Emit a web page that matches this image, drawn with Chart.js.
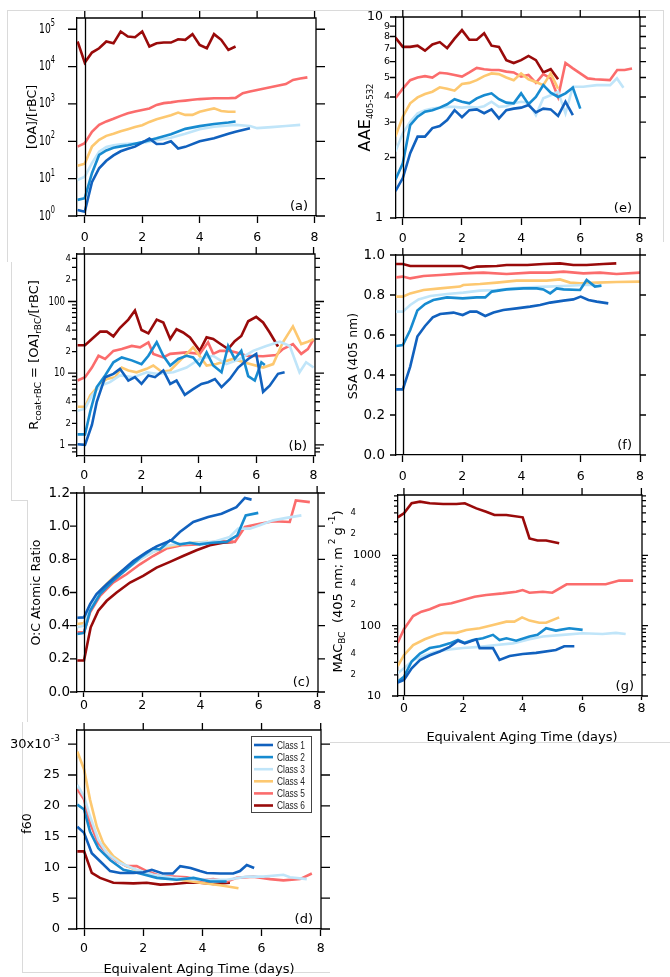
<!DOCTYPE html>
<html>
<head>
<meta charset="utf-8">
<script src="https://cdn.jsdelivr.net/npm/chart.js@4.4.1/dist/chart.umd.min.js"></script>
<style>
  body { margin: 0; background: #fff; width: 670px; height: 977px; position: relative; overflow: hidden; }
  canvas { position: absolute; }
  .edge { position: absolute; background: #dadada; }
</style>
</head>
<body>
<script>
// ---- data ----
const classNames = ["Class 1", "Class 2", "Class 3", "Class 4", "Class 5", "Class 6"];
const classColors = ["#1161be", "#178bd0", "#c0e5f9", "#fdc870", "#fb6c6c", "#990a0a"];
const xTickValues = [0, 2, 4, 6, 8];

// (a) [OA]/[rBC]
const oaRbc1 = [[-0.25,1.45],[0,1.3],[0.25,8],[0.5,19],[0.75,30],[1,42],[1.25,54],[1.5,63],[1.75,72],[2,92],[2.25,118],[2.5,85],[2.75,86],[3,100],[3.25,64],[3.5,71],[4,100],[4.5,120],[5,160],[5.25,180],[5.75,223]];
const oaRbc2 = [[-0.25,2.7],[0,3],[0.25,14],[0.5,43],[0.75,57],[1,67],[1.25,73],[1.5,78],[1.75,86],[2,95],[2.5,120],[3,155],[3.5,215],[4,255],[4.5,290],[5,320],[5.25,340]];
const oaRbc3 = [[-0.25,9.2],[0,11.3],[0.25,26],[0.5,53],[0.75,70],[1,78],[1.25,83],[1.5,86],[1.75,88],[2,90],[2.75,115],[3,125],[3.5,160],[4,210],[4.5,245],[5,265],[5.25,275],[5.75,257],[6,225],[6.5,240],[7,258],[7.5,275]];
const oaRbc4 = [[-0.25,22],[0,25],[0.25,72],[0.5,110],[0.75,140],[1,160],[1.25,185],[1.5,210],[1.75,240],[2,270],[2.25,330],[2.5,390],[2.75,440],[3,500],[3.25,590],[3.5,510],[3.75,510],[4,620],[4.25,690],[4.5,760],[4.75,650],[5,620],[5.25,620]];
const oaRbc5 = [[-0.25,72],[0,89],[0.25,180],[0.5,275],[0.75,340],[1,400],[1.25,480],[1.5,560],[1.75,630],[2,690],[2.25,760],[2.5,940],[2.75,1050],[3,1100],[3.25,1180],[3.5,1230],[3.75,1290],[4,1350],[4.5,1420],[5,1420],[5.25,1450],[5.5,1950],[5.75,2150],[6,2370],[6.25,2600],[6.5,2850],[6.75,3100],[7,3400],[7.25,4400],[7.5,4800],[7.75,5150]];
const oaRbc6 = [[-0.25,47000],[0,12800],[0.25,23700],[0.5,31000],[0.75,47000],[1,42000],[1.25,87000],[1.5,64000],[1.75,61000],[2,87000],[2.25,34600],[2.5,42000],[2.75,44000],[3,44000],[3.25,54000],[3.5,52000],[3.75,74000],[4,38000],[4.25,31000],[4.5,74000],[4.75,52000],[5,28000],[5.25,34600]];
const oaRbcTicks = [1, 10, 100, 1000, 10000, 100000];
const oaRbcLabels = ["10^0", "10^1", "10^2", "10^3", "10^4", "10^5"];

// (b) R coat-rBC
const rcoat1 = [[-0.23,1.02],[0.03,1.0],[0.27,1.9],[0.44,4],[0.73,8.8],[1.02,9.8],[1.25,11.5],[1.54,7.9],[1.77,8.8],[2,7.1],[2.24,9.3],[2.47,8.8],[2.76,10.9],[3,7.1],[3.22,7.9],[3.51,5.0],[3.8,6.0],[4.09,7.1],[4.32,7.5],[4.56,8.3],[4.79,6.4],[5.08,8.3],[5.37,12],[5.72,15.8],[6,18.6],[6.24,5.5],[6.47,6.7],[6.76,9.8],[6.99,10.3]];
const rcoat2 = [[-0.23,1.4],[0.03,1.4],[0.21,2.9],[0.44,6.4],[0.73,9.3],[1.02,14.2],[1.31,16.6],[1.66,15.1],[2,13.4],[2.24,17.5],[2.53,27],[2.76,17.5],[3,12.8],[3.28,15.8],[3.57,17.5],[3.8,16.6],[4.03,12.8],[4.27,19.5],[4.5,12.8],[4.79,10.3],[5.02,24],[5.25,15.8],[5.48,20.5],[5.72,9.1],[5.95,7.9],[6.18,14.2],[6.3,13]];
const rcoat3 = [[-0.23,3.0],[0.03,3.2],[0.27,4.9],[0.56,6.7],[0.9,7.5],[1.25,9.3],[1.72,8.8],[2.18,10.3],[2.53,9.8],[3.11,10.3],[3.57,12],[4.03,15.8],[4.5,17.5],[4.96,13.4],[5.43,15.8],[5.89,20.5],[6.35,24],[6.82,27.5],[7.17,24],[7.51,10.3],[7.74,14.2],[8,12]];
const rcoat4 = [[-0.23,3.4],[0.03,3.4],[0.21,4.9],[0.56,7.1],[0.79,8.3],[1.08,8.8],[1.31,12],[1.54,10.9],[1.83,10.3],[2.18,11.5],[2.41,12.8],[2.7,10.5],[3,10.9],[3.28,14.2],[3.8,23],[4.27,12.8],[4.61,13.4],[5.19,15.8],[5.66,13.9],[6.24,12],[6.59,13.4],[6.93,27],[7.28,45],[7.57,25.5],[7.8,27.5],[8,29.7]];
const rcoat5 = [[-0.23,7.9],[0.03,8.8],[0.27,12],[0.5,17.5],[0.73,15.8],[1.02,20.5],[1.31,21.7],[1.66,24],[1.95,23],[2.24,27],[2.41,18.6],[2.76,16.6],[3,18.6],[3.57,19.5],[4.03,18.6],[4.32,27],[4.5,18.6],[4.73,20.5],[5.08,20.5],[5.31,19.5],[5.66,17.5],[6.24,17.2],[6.7,17.9],[6.93,21.7],[7.28,25.5],[7.57,18.6],[7.8,21.7],[8,29.7]];
const rcoat6 = [[-0.23,24.6],[0.03,24.6],[0.27,30],[0.56,38],[0.79,38],[1.02,32.6],[1.25,43],[1.54,56],[1.77,75],[2,40],[2.24,36],[2.53,56],[2.76,51],[3,30],[3.22,41],[3.45,37],[3.69,31.6],[4.03,20.5],[4.27,31.6],[4.5,30],[4.73,26],[5.02,21.7],[5.25,28],[5.48,33],[5.72,53],[6,61],[6.24,51],[6.47,37],[6.76,23.6]];
const rcoatTicks = [1, 2, 4, 10, 20, 40, 100, 200, 400];
const rcoatLabels = ["1", "2", "4", "10", "2", "4", "100", "2", "4"];

// (c) O:C atomic ratio
const ocRatio1 = [[-0.23,0.448],[0,0.45],[0.21,0.53],[0.43,0.59],[0.78,0.65],[1.23,0.72],[1.69,0.79],[2.15,0.844],[2.49,0.878],[3,0.915],[3.29,0.965],[3.75,1.025],[4.26,1.055],[4.72,1.075],[5.23,1.115],[5.52,1.17],[5.75,1.16]];
const ocRatio2 = [[-0.23,0.35],[0,0.356],[0.21,0.49],[0.55,0.59],[1,0.67],[1.46,0.74],[1.92,0.81],[2.37,0.865],[2.6,0.86],[2.95,0.915],[3.29,0.89],[3.63,0.9],[3.97,0.89],[4.4,0.9],[4.89,0.905],[5.26,0.945],[5.55,1.065],[5.98,1.08]];
const ocRatio3 = [[-0.23,0.39],[0,0.4],[0.21,0.51],[0.55,0.6],[1,0.68],[1.46,0.74],[1.92,0.8],[2.37,0.845],[2.83,0.88],[3.29,0.895],[3.86,0.9],[4.43,0.905],[5,0.935],[5.29,0.985],[5.69,0.985],[6.03,1.005],[6.49,1.035],[6.95,1.05],[7.46,1.065]];
const ocRatio4 = [[-0.23,0.41],[0,0.416],[0.21,0.51],[0.55,0.61],[1,0.69],[1.46,0.75],[1.92,0.8],[2.37,0.845],[2.83,0.875],[3.29,0.89],[3.75,0.9],[4.26,0.905]];
const ocRatio5 = [[-0.23,0.36],[0,0.36],[0.21,0.48],[0.55,0.58],[1,0.66],[1.46,0.71],[1.92,0.77],[2.37,0.82],[2.83,0.865],[3.35,0.885],[3.86,0.89],[4.43,0.905],[4.78,0.91],[5.18,0.905],[5.52,0.995],[6.03,1.015],[6.5,1.03],[7.06,1.025],[7.27,1.155],[7.75,1.145]];
const ocRatio6 = [[-0.23,0.19],[0,0.19],[0.23,0.39],[0.49,0.49],[0.78,0.55],[1.12,0.6],[1.58,0.66],[2.03,0.7],[2.49,0.75],[2.95,0.785],[3.4,0.82],[3.86,0.855],[4.32,0.885],[4.77,0.9],[5.12,0.905]];
const ocTicks = [0, 0.2, 0.4, 0.6, 0.8, 1.0, 1.2];
const ocLabels = ["0.0", "0.2", "0.4", "0.6", "0.8", "1.0", "1.2"];

// (d) f60, in units of 1e-3
const f60_1 = [[-0.23,16.6],[0,15.6],[0.26,12.3],[0.54,11.0],[0.88,9.4],[1.22,9.1],[1.67,9.1],[2,9.2],[2.29,9.6],[2.66,9.0],[3,9.0],[3.25,10.2],[3.6,9.9],[3.92,9.4],[4.15,9.1],[4.6,9.0],[5.04,9.0],[5.27,9.4],[5.5,10.4],[5.75,9.9]];
const f60_2 = [[-0.23,20.2],[0,19.4],[0.2,15.8],[0.48,13.1],[0.88,11.2],[1.33,9.6],[1.89,9.0],[2.46,8.3],[3.13,8.0],[3.7,8.3],[4.26,7.7],[4.82,7.7]];
const f60_3 = [[-0.23,23.4],[0,21.5],[0.2,18.3],[0.48,14.5],[0.77,12.3],[1.22,10.7],[1.78,9.6],[2.34,8.8],[3.02,8.3],[3.92,8.0],[4.82,8.0],[5.5,8.5],[6.06,8.5],[6.74,8.8],[6.96,8.4],[7.53,8.1]];
const f60_4 = [[-0.23,28.8],[0,25.9],[0.2,21],[0.43,16.6],[0.65,13.9],[0.99,11.8],[1.44,10.2],[2,9.1],[2.57,8.3],[3.25,8.0],[3.92,7.5],[4.6,7.1],[5.22,6.6]];
const f60_5 = [[-0.23,22.7],[0,21],[0.2,17.2],[0.48,13.9],[0.77,12.3],[1.1,11.0],[1.44,10.2],[1.78,10.2],[2.12,9.4],[2.57,8.6],[3.02,8.5],[3.47,8.4],[3.92,7.9],[4.37,8.1],[4.82,7.7],[5.16,8.3],[5.72,8.5],[6.29,8.1],[6.74,7.9],[7.3,8.1],[7.7,9.0]];
const f60_6 = [[-0.23,12.6],[0,12.6],[0.26,9.1],[0.54,8.3],[0.99,7.5],[1.67,7.4],[2.12,7.5],[2.57,7.2],[3.02,7.3],[3.47,7.5],[3.92,7.5],[4.37,7.3],[4.93,7.5]];
const f60Ticks = [0, 5, 10, 15, 20, 25, 30];
const f60Labels = ["0", "5", "10", "15", "20", "25", "30x10^-3"];

// (e) AAE 405-532
const aae1 = [[-0.25,1.36],[0,1.58],[0.25,2.1],[0.5,2.54],[0.75,2.54],[1,2.8],[1.25,2.87],[1.5,3.07],[1.75,3.44],[2,3.17],[2.25,3.44],[2.5,3.47],[2.75,3.32],[3,3.47],[3.25,3.13],[3.5,3.44],[3.75,3.5],[4,3.54],[4.25,3.65],[4.5,3.35],[4.75,3.5],[5,3.47],[5.25,3.22],[5.5,3.79],[5.75,3.25]];
const aae2 = [[-0.25,1.55],[0,1.87],[0.25,2.9],[0.5,3.19],[0.75,3.38],[1,3.44],[1.25,3.54],[1.5,3.68],[1.75,3.9],[2,3.79],[2.25,3.72],[2.5,3.94],[2.75,4.08],[3,4.17],[3.25,3.9],[3.5,3.75],[3.75,3.72],[4,4.17],[4.25,3.68],[4.5,4.0],[4.75,4.58],[5,4.2],[5.25,4.0],[5.5,4.17],[5.75,4.45],[6,3.5]];
const aae3 = [[-0.25,2.14],[0,2.64],[0.25,3.01],[0.5,3.32],[0.75,3.44],[1,3.5],[1.25,3.54],[1.5,3.57],[1.75,3.57],[2,3.54],[2.25,3.57],[2.5,3.54],[2.75,3.6],[3,3.79],[3.25,3.57],[3.5,3.6],[3.75,3.72],[4,3.79],[4.25,3.75],[4.5,3.25],[4.75,3.94],[5,4.08],[5.25,4.25],[5.5,3.32],[5.75,4.5],[6.1,4.5],[6.56,4.58],[7.01,4.58],[7.24,4.95],[7.46,4.45]];
const aae4 = [[-0.25,2.54],[0,3.19],[0.25,3.72],[0.5,3.98],[0.75,4.14],[1,4.25],[1.25,4.47],[1.5,4.4],[1.75,4.3],[2,4.64],[2.25,4.7],[2.5,4.85],[2.75,5.08],[3,5.24],[3.25,5.2],[3.5,5.0],[3.75,4.85],[4,5.24],[4.25,4.9],[4.5,4.75],[4.75,4.58],[5,5.24],[5.25,4.4]];
const aae5 = [[-0.25,3.94],[0,4.4],[0.25,4.85],[0.5,5.0],[0.75,5.08],[1,5.0],[1.25,5.28],[1.5,5.24],[1.75,5.15],[2,5.05],[2.25,5.3],[2.5,5.58],[2.75,5.5],[3,5.45],[3.25,5.45],[3.5,5.35],[3.75,5.3],[4,5.05],[4.25,5.15],[4.5,4.7],[4.75,5.2],[5,4.95],[5.25,4.0],[5.5,5.9],[5.75,5.55],[6,5.24],[6.25,4.95],[6.5,4.9],[7,4.85],[7.25,5.45],[7.5,5.45],[7.75,5.55]];
const aae6 = [[-0.25,7.9],[0,7.1],[0.25,7.1],[0.5,7.2],[0.75,6.8],[1,7.3],[1.25,7.5],[1.5,7.0],[1.75,7.8],[2,8.6],[2.25,7.7],[2.5,7.7],[2.75,8.3],[3,7.2],[3.25,7.1],[3.5,6.1],[3.75,5.9],[4,6.1],[4.25,6.4],[4.5,6.1],[4.75,5.3],[5,5.5],[5.25,4.9]];
const aaeTicks = [1, 2, 3, 4, 5, 6, 7, 8, 9, 10];
const aaeLabels = ["1", "2", "3", "4", "5", "6", "7", "8", "9", "10"];

// (f) SSA (405 nm)
const ssa1 = [[-0.24,0.328],[0,0.328],[0.25,0.442],[0.49,0.592],[0.75,0.645],[1.01,0.688],[1.26,0.705],[1.71,0.712],[2.02,0.7],[2.27,0.717],[2.49,0.717],[2.78,0.695],[3.06,0.712],[3.39,0.725],[3.84,0.733],[4.29,0.742],[4.63,0.75],[4.97,0.762],[5.42,0.772],[5.75,0.778],[6,0.792],[6.26,0.775],[6.54,0.767],[6.93,0.758]];
const ssa2 = [[-0.24,0.545],[0,0.55],[0.25,0.625],[0.49,0.722],[0.75,0.755],[1.03,0.775],[1.49,0.788],[2.02,0.783],[2.49,0.788],[2.78,0.788],[3,0.817],[3.5,0.828],[4.07,0.833],[4.52,0.833],[4.74,0.828],[4.97,0.808],[5.19,0.833],[5.42,0.828],[5.98,0.825],[6.2,0.875],[6.48,0.842],[6.7,0.847]];
const ssa3 = [[-0.24,0.717],[0,0.717],[0.25,0.75],[0.53,0.778],[0.93,0.795],[1.49,0.805],[2.04,0.812],[2.6,0.822],[3.17,0.825],[3.73,0.833],[4.29,0.838],[4.85,0.842],[5.42,0.845],[6.09,0.85],[6.54,0.85]];
const ssa4 = [[-0.24,0.792],[0,0.792],[0.25,0.808],[0.7,0.825],[1.26,0.833],[1.93,0.842],[2.04,0.85],[2.6,0.855],[3.17,0.862],[3.84,0.872],[4.29,0.872],[4.85,0.872],[5.3,0.878],[5.64,0.862],[5.98,0.858],[6.54,0.862],[7.21,0.865],[8,0.867]];
const ssa5 = [[-0.24,0.888],[0,0.892],[0.25,0.883],[0.7,0.895],[1.26,0.9],[2.04,0.908],[2.72,0.912],[3.5,0.905],[4.29,0.912],[4.97,0.912],[5.42,0.917],[6.09,0.908],[6.65,0.912],[7.21,0.905],[8,0.912]];
const ssa6 = [[-0.24,0.955],[0,0.955],[0.25,0.945],[2,0.945],[2.25,0.933],[2.5,0.942],[3.17,0.945],[3.5,0.95],[4.2,0.95],[4.74,0.955],[5.3,0.958],[5.75,0.95],[6.2,0.95],[6.76,0.955],[7.2,0.958]];
const ssaTicks = [0, 0.2, 0.4, 0.6, 0.8, 1.0];
const ssaLabels = ["0.0", "0.2", "0.4", "0.6", "0.8", "1.0"];

// (g) MAC BC
const mac1 = [[-0.21,15.5],[0,16.9],[0.26,24.7],[0.54,32.5],[0.87,38],[1.21,43],[1.54,50],[1.82,61],[2.05,56],[2.44,64],[2.55,48],[3,48],[3.22,32.5],[3.56,37],[4,39.6],[4.45,41],[5.12,45],[5.4,51],[5.74,51]];
const mac2 = [[-0.21,16],[0,18.8],[0.26,31],[0.54,40],[0.87,48],[1.21,51],[1.54,56],[1.82,62.5],[2.05,57],[2.33,62.5],[2.66,66],[3,74],[3.22,62.5],[3.45,66],[3.78,61],[4.23,70],[4.5,74],[4.79,92],[5.12,85],[5.57,92],[6.02,87]];
const mac3 = [[-0.21,21],[0,24.7],[0.31,32.5],[0.7,38],[1.1,43],[1.54,46],[1.99,48],[2.55,50],[3.11,53],[3.67,56],[4.23,64],[4.68,70],[5.35,74],[6.02,78],[6.69,76],[7.14,79],[7.47,76]];
const mac4 = [[-0.21,26.7],[0,38],[0.31,53],[0.7,64],[1.1,74],[1.38,79],[1.77,79],[2.1,87],[2.55,92],[3,102],[3.45,114],[3.72,114],[3.98,131],[4.23,118],[4.56,110],[4.79,110],[5.23,131]];
const mac5 = [[-0.21,57],[0,89],[0.31,137],[0.59,158],[0.87,171],[1.21,197],[1.6,208],[1.99,232],[2.38,258],[2.77,273],[3.33,288],[3.78,304],[4,321],[4.23,294],[4.68,304],[5,294],[5.48,387],[6.02,387],[6.8,387],[7.25,437],[7.72,437]];
const mac6 = [[-0.21,3470],[0,3950],[0.26,5500],[0.54,5800],[0.87,5500],[1.32,5370],[1.77,5370],[2.05,5500],[2.44,4650],[2.77,4170],[3.05,3740],[3.45,3740],[4,3470],[4.23,1740],[4.5,1620],[4.79,1620],[5.23,1480]];
const macTicks = [10, 20, 40, 100, 200, 400, 1000, 2000, 4000];
const macLabels = ["10", "2", "4", "100", "2", "4", "1000", "2", "4"];

// ---- drawing ----
const FONT = '"DejaVu Sans", sans-serif';
const PAD_T = 18, PAD_R = 14, PAD_B = 48;

function fontStr(size) {
  return size + "px " + FONT;
}

function isDecade(v) {
  const l = Math.log10(v);
  return Math.abs(l - Math.round(l)) < 1e-9;
}

// tick label, "^" marks a superscript part; sx squeezes it horizontally
function drawTickLabel(ctx, text, xRight, y, size, sx) {
  const parts = text.split("^");
  const base = parts[0], sup = parts[1];
  ctx.save();
  ctx.translate(xRight, y);
  ctx.scale(sx, 1);
  ctx.font = fontStr(size);
  const wb = ctx.measureText(base).width;
  let ws = 0;
  if (sup) {
    ctx.font = fontStr(size * 0.72);
    ws = ctx.measureText(sup).width;
  }
  ctx.textAlign = "left";
  ctx.textBaseline = "middle";
  ctx.font = fontStr(size);
  ctx.fillText(base, -wb - ws, 0);
  if (sup) {
    ctx.font = fontStr(size * 0.72);
    ctx.fillText(sup, -ws, -size * 0.42);
  }
  ctx.restore();
}

// text made of parts with sub / superscripts, centred on (cx, cy)
function drawRich(ctx, parts, cx, cy, rotated) {
  ctx.save();
  ctx.translate(cx, cy);
  if (rotated) ctx.rotate(-Math.PI / 2);
  let total = 0;
  parts.forEach(p => {
    ctx.font = fontStr(p.size);
    p.w = ctx.measureText(p.t).width;
    total += p.w;
  });
  let x = -total / 2;
  ctx.textAlign = "left";
  ctx.textBaseline = "alphabetic";
  parts.forEach(p => {
    ctx.font = fontStr(p.size);
    ctx.fillText(p.t, x, 4.6 + (p.dy || 0));
    x += p.w;
  });
  ctx.restore();
}

function decorPlugin(cfg) {
  return {
    id: "decor",
    afterDatasetsDraw(chart) {
      const { ctx, chartArea: a, scales: { x, y } } = chart;
      ctx.save();
      ctx.strokeStyle = "#000";
      ctx.fillStyle = "#000";
      ctx.lineWidth = 1.3;

      // frame top / right and the zero line
      ctx.beginPath();
      ctx.moveTo(a.left, a.top);
      ctx.lineTo(a.right, a.top);
      ctx.lineTo(a.right, a.bottom);
      const x0 = Math.round(x.getPixelForValue(0)) + 0.5;
      ctx.moveTo(x0, a.top);
      ctx.lineTo(x0, a.bottom);
      ctx.stroke();

      // top ticks
      ctx.beginPath();
      xTickValues.forEach(v => {
        const px = x.getPixelForValue(v);
        ctx.moveTo(px, a.top);
        ctx.lineTo(px, a.top - 7);
      });
      ctx.stroke();

      // y ticks, both sides
      let tickVals = cfg.yTicks.slice();
      if (cfg.minorAll) {
        tickVals = [];
        for (let d = Math.floor(Math.log10(cfg.yMin)); d <= Math.ceil(Math.log10(cfg.yMax)); d++) {
          for (let k = 1; k <= 9; k++) {
            const v = k * Math.pow(10, d);
            if (v >= cfg.yMin && v <= cfg.yMax) tickVals.push(v);
          }
        }
      }
      ctx.beginPath();
      tickVals.forEach(v => {
        const py = y.getPixelForValue(v);
        const major = !cfg.yLog || isDecade(v);
        const len = major ? cfg.tickLen : cfg.minorLen;
        ctx.moveTo(a.left - len, py);
        ctx.lineTo(a.left, py);
        ctx.moveTo(a.right, py);
        ctx.lineTo(a.right + len, py);
      });
      ctx.stroke();

      // y tick labels
      cfg.yTicks.forEach((v, i) => {
        const py = y.getPixelForValue(v);
        const major = !cfg.yLog || isDecade(v);
        const size = major ? cfg.majorSize : cfg.minorSize;
        const gap = major ? cfg.majorGap : cfg.minorGap;
        drawTickLabel(ctx, cfg.yLabels[i], a.left - gap, py, size, major ? (cfg.labelSx || 1) : 1);
      });

      // axis titles
      const cy = (a.top + a.bottom) / 2 + cfg.titleDy;
      drawRich(ctx, cfg.yTitle, a.left - cfg.titleDx, cy, true);
      if (cfg.xTitle) {
        drawRich(ctx, [{ t: "Equivalent Aging Time (days)", size: 13 }], (a.left + a.right) / 2 + cfg.xTitleDx, a.bottom + cfg.xTitleDy, false);
      }

      // panel letter
      ctx.font = fontStr(13);
      ctx.textAlign = "right";
      ctx.textBaseline = "alphabetic";
      ctx.fillText(cfg.letter, a.right - 8, a.bottom - 6);

      if (cfg.legend) drawLegend(ctx, a);
      ctx.restore();
    }
  };
}

function drawLegend(ctx, a) {
  const w = 60, h = 76;
  const left = a.right - 10 - w, top = a.top + 6;
  ctx.fillStyle = "#fff";
  ctx.fillRect(left, top, w, h);
  ctx.strokeStyle = "#444";
  ctx.lineWidth = 1;
  ctx.strokeRect(left + 0.5, top + 0.5, w, h);
  classNames.forEach((name, i) => {
    const ry = top + 9 + i * 12.1;
    ctx.strokeStyle = classColors[i];
    ctx.lineWidth = 2.6;
    ctx.beginPath();
    ctx.moveTo(left + 3, ry);
    ctx.lineTo(left + 22, ry);
    ctx.stroke();
    ctx.save();
    ctx.fillStyle = "#222";
    ctx.font = '11px "Liberation Sans", sans-serif';
    ctx.textAlign = "left";
    ctx.textBaseline = "middle";
    ctx.translate(left + 26, ry);
    ctx.scale(0.76, 1);
    ctx.fillText(name, 0, 0.5);
    ctx.restore();
  });
}

function makePanel(cfg) {
  const plotW = cfg.R - cfg.L, plotH = cfg.B - cfg.T;
  const canvas = document.createElement("canvas");
  canvas.width = cfg.padL + plotW + PAD_R;
  canvas.height = PAD_T + plotH + PAD_B;
  canvas.style.left = (cfg.L - cfg.padL) + "px";
  canvas.style.top = (cfg.T - PAD_T) + "px";
  document.body.appendChild(canvas);

  const datasets = cfg.series.map((pts, i) => ({
    label: classNames[i],
    data: pts.map(p => ({ x: p[0], y: p[1] })),
    borderColor: classColors[i],
    borderWidth: 2.6,
    pointRadius: 0,
    fill: false,
    tension: 0
  }));

  new Chart(canvas, {
    type: "line",
    data: { datasets: datasets },
    options: {
      responsive: false,
      animation: false,
      devicePixelRatio: 1,
      layout: { padding: { top: PAD_T, right: PAD_R, left: 0, bottom: 0 } },
      plugins: { legend: { display: false }, tooltip: { enabled: false } },
      scales: {
        x: {
          type: "linear",
          position: "bottom",
          min: cfg.xMin,
          max: cfg.xMax,
          afterBuildTicks: s => { s.ticks = xTickValues.map(v => ({ value: v })); },
          ticks: {
            color: "#000",
            font: { family: FONT, size: 12.5 },
            padding: cfg.xPad,
            maxRotation: 0,
            autoSkip: false,
            callback: v => String(v)
          },
          grid: { drawOnChartArea: false, color: "#000", tickLength: cfg.xTick, tickWidth: 1.3 },
          border: { color: "#000", width: 1.3 },
          afterFit: s => { s.height = PAD_B; s.paddingLeft = 0; s.paddingRight = 0; }
        },
        y: {
          type: cfg.yLog ? "logarithmic" : "linear",
          position: "left",
          min: cfg.yMin,
          max: cfg.yMax,
          ticks: { display: false },
          grid: { display: false },
          border: { color: "#000", width: 1.3 },
          afterFit: s => { s.width = cfg.padL; s.paddingTop = 0; s.paddingBottom = 0; }
        }
      }
    },
    plugins: [decorPlugin(cfg)]
  });
}

// faint frames around the sub-figures
const edges = [
  [7, 10, 1, 252], [7, 10, 323, 1], [11, 262, 1, 238], [11, 500, 16, 1], [27, 500, 1, 222],
  [22, 722, 1, 250], [22, 972, 308, 1], [330, 10, 333, 1], [663, 10, 1, 232], [330, 742, 340, 1]
];
edges.forEach(e => {
  const d = document.createElement("div");
  d.className = "edge";
  d.style.left = e[0] + "px"; d.style.top = e[1] + "px";
  d.style.width = e[2] + "px"; d.style.height = e[3] + "px";
  document.body.appendChild(d);
});

const sub = 8.5;
makePanel({
  L: 77, T: 18, R: 316, B: 216, padL: 77, xMin: -0.27, xMax: 8.05, xTick: 7, xPad: 7,
  yLog: true, yMin: 1, yMax: 2.0e5, yTicks: oaRbcTicks, yLabels: oaRbcLabels,
  tickLen: 9, minorLen: 5, majorSize: 13.5, minorSize: 9, majorGap: 22, minorGap: 22, labelSx: 0.68,
  yTitle: [{ t: "[OA]/[rBC]", size: 12.5 }], titleDx: 46, titleDy: 0,
  series: [oaRbc1, oaRbc2, oaRbc3, oaRbc4, oaRbc5, oaRbc6], letter: "(a)"
});
makePanel({
  L: 77, T: 254, R: 315, B: 456, padL: 77, xMin: -0.25, xMax: 8.05, xTick: 7, xPad: 5,
  yLog: true, minorAll: true, yMin: 0.74, yMax: 460, yTicks: rcoatTicks, yLabels: rcoatLabels,
  tickLen: 9, minorLen: 5, majorSize: 12, minorSize: sub, majorGap: 12, minorGap: 6, labelSx: 0.72,
  yTitle: [{ t: "R", size: 13 }, { t: "coat-rBC", size: 9, dy: 3 }, { t: " = [OA]", size: 13 }, { t: "rBC", size: 9, dy: 3 }, { t: "/[rBC]", size: 13 }],
  titleDx: 44, titleDy: 0,
  series: [rcoat1, rcoat2, rcoat3, rcoat4, rcoat5, rcoat6], letter: "(b)"
});
makePanel({
  L: 77, T: 493, R: 318, B: 692, padL: 77, xMin: -0.24, xMax: 8.03, xTick: 5, xPad: 1,
  yLog: false, yMin: 0, yMax: 1.2, yTicks: ocTicks, yLabels: ocLabels,
  tickLen: 7, minorLen: 7, majorSize: 13.5, minorSize: 13.5, majorGap: 7, minorGap: 7,
  yTitle: [{ t: "O:C Atomic Ratio", size: 12.5 }], titleDx: 42, titleDy: 0,
  series: [ocRatio1, ocRatio2, ocRatio3, ocRatio4, ocRatio5, ocRatio6], letter: "(c)"
});
makePanel({
  L: 77, T: 730, R: 321, B: 929, padL: 77, xMin: -0.24, xMax: 8.01, xTick: 7, xPad: 5,
  yLog: false, yMin: 0, yMax: 32.3, yTicks: f60Ticks, yLabels: f60Labels,
  tickLen: 9, minorLen: 9, majorSize: 13, minorSize: 13, majorGap: 17, minorGap: 17,
  yTitle: [{ t: "f60", size: 12.5 }], titleDx: 51, titleDy: -6,
  xTitle: true, xTitleDx: 0, xTitleDy: 39,
  series: [f60_1, f60_2, f60_3, f60_4, f60_5, f60_6], letter: "(d)", legend: true
});
makePanel({
  L: 396, T: 17, R: 640, B: 218, padL: 70, xMin: -0.23, xMax: 8.02, xTick: 7, xPad: 6,
  yLog: true, yMin: 1, yMax: 10, yTicks: aaeTicks, yLabels: aaeLabels,
  tickLen: 6, minorLen: 6, majorSize: 12.5, minorSize: 9.5, majorGap: 13, minorGap: 6,
  yTitle: [{ t: "AAE", size: 16 }, { t: "405-532", size: 8.5, dy: 3.5 }], titleDx: 31, titleDy: 0,
  series: [aae1, aae2, aae3, aae4, aae5, aae6], letter: "(e)"
});
makePanel({
  L: 396, T: 255, R: 640, B: 455, padL: 70, xMin: -0.23, xMax: 8.0, xTick: 7, xPad: 7,
  yLog: false, yMin: 0, yMax: 1.0, yTicks: ssaTicks, yLabels: ssaLabels,
  tickLen: 6, minorLen: 6, majorSize: 13.5, minorSize: 13.5, majorGap: 11, minorGap: 11,
  yTitle: [{ t: "SSA (405 nm)", size: 12.5 }], titleDx: 44, titleDy: 1,
  series: [ssa1, ssa2, ssa3, ssa4, ssa5, ssa6], letter: "(f)"
});
makePanel({
  L: 398, T: 495, R: 642, B: 696, padL: 70, xMin: -0.2, xMax: 8.02, xTick: 4, xPad: 1,
  yLog: true, minorAll: true, yMin: 10, yMax: 7200, yTicks: macTicks, yLabels: macLabels,
  tickLen: 6, minorLen: 4, majorSize: 11, minorSize: sub, majorGap: 17, minorGap: 42,
  yTitle: [{ t: "MAC", size: 13 }, { t: "BC", size: 9, dy: 3 }, { t: "  (405 nm; m", size: 13 }, { t: " 2 ", size: 9, dy: -7 }, { t: "g", size: 13 }, { t: " -1", size: 9, dy: -7 }, { t: ")", size: 13 }],
  titleDx: 61, titleDy: -4,
  xTitle: true, xTitleDx: 2, xTitleDy: 40,
  series: [mac1, mac2, mac3, mac4, mac5, mac6], letter: "(g)"
});
</script>
</body>
</html>
